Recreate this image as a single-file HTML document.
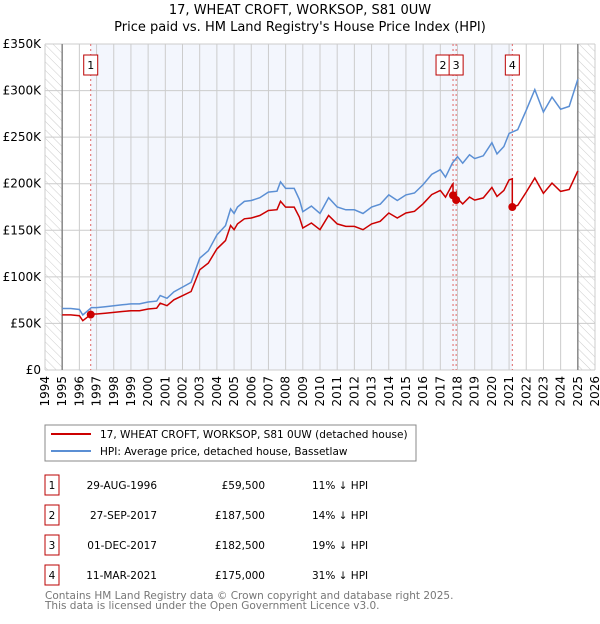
<!DOCTYPE html>
<html><head><meta charset="utf-8"><style>
body{margin:0;background:#fff;font-family:"DejaVu Sans","Liberation Sans",sans-serif;}
svg text{font-family:"DejaVu Sans","Liberation Sans",sans-serif;}
</style></head><body>
<svg id="chart" width="600" height="620" xmlns="http://www.w3.org/2000/svg">
<defs>
<pattern id="hatch" width="6" height="6" patternUnits="userSpaceOnUse" patternTransform="rotate(-45)">
<line x1="0" y1="0" x2="0" y2="6" stroke="#ccc" stroke-width="1"/>
</pattern>
</defs>
<text x="300" y="14" text-anchor="middle" font-size="13">17, WHEAT CROFT, WORKSOP, S81 0UW</text>
<text x="300" y="31" text-anchor="middle" font-size="13">Price paid vs. HM Land Registry's House Price Index (HPI)</text>
<g id="plot"></g>
<g id="legend">
<rect x="45" y="425" width="371" height="36" fill="#fff" stroke="#888"/>
<line x1="51" y1="434" x2="91" y2="434" stroke="#cc0000" stroke-width="2"/>
<text x="100" y="438" font-size="10.5">17, WHEAT CROFT, WORKSOP, S81 0UW (detached house)</text>
<line x1="51" y1="451" x2="91" y2="451" stroke="#5b8fd4" stroke-width="2"/>
<text x="100" y="455" font-size="10.5">HPI: Average price, detached house, Bassetlaw</text>
</g>
<g id="table"></g>
<text x="45" y="599" font-size="10.5" fill="#777">Contains HM Land Registry data © Crown copyright and database right 2025.</text>
<text x="45" y="609" font-size="10.5" fill="#777">This data is licensed under the Open Government Licence v3.0.</text>
</svg>
<script>
const hpiYears=[1995,1995.5,1996,1996.2,1996.7,1997,1997.5,1998,1998.5,1999,1999.5,2000,2000.5,2000.7,2001.1,2001.5,2002,2002.5,2003,2003.5,2004,2004.5,2004.8,2005,2005.2,2005.6,2006,2006.5,2007,2007.5,2007.7,2008,2008.5,2008.8,2009,2009.5,2010,2010.5,2011,2011.5,2012,2012.5,2013,2013.5,2014,2014.5,2015,2015.5,2016,2016.5,2017,2017.3,2017.7,2018,2018.3,2018.7,2019,2019.5,2020,2020.3,2020.7,2021,2021.5,2022,2022.5,2023,2023.5,2024,2024.5,2025];
const hpiValues=[66,66,65,59,67,67,68,69,70,71,71,73,74,80,77,84,89,94,120,128,145,155,173,168,175,181,182,185,191,192,202,195,195,183,170,176,168,185,175,172,172,168,175,178,188,182,188,190,199,210,215,207,222,229,222,231,227,230,244,232,240,254,258,279,301,277,293,280,283,312];
const saleLabels=["1","2","3","4"];
const saleYears=[1996.66,2017.74,2017.92,2021.19];
const salePrices=[59.5,187.5,182.5,175];
const saleDates=["29-AUG-1996","27-SEP-2017","01-DEC-2017","11-MAR-2021"];
const salePriceText=["£59,500","£187,500","£182,500","£175,000"];
const saleDiffText=["11% ↓ HPI","14% ↓ HPI","19% ↓ HPI","31% ↓ HPI"];
const yTicks=[0,50,100,150,200,250,300,350];
const yTickLabels=["£0","£50K","£100K","£150K","£200K","£250K","£300K","£350K"];

const NS="http://www.w3.org/2000/svg";
const L=45,R=595,T=44,B=370;
const x=y=>L+(y-1994)*(R-L)/32;
const yv=v=>B-v*(B-T)/350;
function mk(tag,attrs,parent){const e=document.createElementNS(NS,tag);for(const k in attrs)e.setAttribute(k,attrs[k]);parent.appendChild(e);return e;}
const plot=document.getElementById('plot');
function hpiAt(t){for(let i=0;i<hpiYears.length-1;i++){if(t>=hpiYears[i]&&t<=hpiYears[i+1]){const f=(t-hpiYears[i])/(hpiYears[i+1]-hpiYears[i]);return hpiValues[i]+f*(hpiValues[i+1]-hpiValues[i]);}}return hpiValues[hpiValues.length-1];}

let e;
e=mk('rect',{x:x(saleYears[0]),y:T,width:x(saleYears[3])-x(saleYears[0]),height:B-T,fill:'#f3f6fd'},plot);

e=mk('rect',{x:L,y:T,width:x(1995)-L,height:B-T,fill:'url(#hatch)'},plot);

e=mk('rect',{x:x(2025),y:T,width:R-x(2025),height:B-T,fill:'url(#hatch)'},plot);

for(let yr=1994;yr<=2026;yr++){
 e=mk('line',{x1:x(yr),x2:x(yr),y1:T,y2:B,stroke:'#ccc','stroke-width':1},plot);
 
 e=mk('text',{x:0,y:0,transform:`translate(${x(yr)+4},${B+6}) rotate(-90)`,'text-anchor':'end','font-size':12},plot);
 e.textContent=yr;
}
yTicks.forEach((v,i)=>{
 e=mk('line',{x1:L,x2:R,y1:yv(v),y2:yv(v),stroke:'#ccc','stroke-width':1},plot);
 
 e=mk('text',{x:L-4,y:yv(v)+4,'text-anchor':'end','font-size':12},plot);
 e.textContent=yTickLabels[i];
});
[1995,2025].forEach(yr=>{e=mk('line',{x1:x(yr),x2:x(yr),y1:T,y2:B,stroke:'#888','stroke-width':1.5},plot);
 });
saleYears.forEach((t,i)=>{e=mk('line',{x1:x(t),x2:x(t),y1:T,y2:B,stroke:'#e06666','stroke-width':1,'stroke-dasharray':'2,3'},plot);
 });
let d=hpiYears.map((t,i)=>(i?'L':'M')+x(t).toFixed(1)+','+yv(hpiValues[i]).toFixed(1)).join('');
e=mk('path',{d:d,fill:'none',stroke:'#5b8fd4','stroke-width':1.5},plot);

const ratios=saleYears.map((t,i)=>salePrices[i]/hpiAt(t));
function ratioAt(t){let r=ratios[0];for(let i=0;i<saleYears.length;i++)if(t>=saleYears[i])r=ratios[i];return r;}
let pts=[];
hpiYears.forEach((t,i)=>{pts.push([t,hpiValues[i]]);});
saleYears.forEach(t=>{pts.push([t-0.001,hpiAt(t)]);pts.push([t,hpiAt(t)]);});
pts.sort((a,b)=>a[0]-b[0]);
d=pts.map((p,i)=>(i?'L':'M')+x(p[0]).toFixed(1)+','+yv(p[1]*ratioAt(p[0])).toFixed(1)).join('');
e=mk('path',{d:d,fill:'none',stroke:'#cc0000','stroke-width':1.5},plot);

saleYears.forEach((t,i)=>{
 e=mk('circle',{cx:x(t),cy:yv(salePrices[i]),r:4,fill:'#cc0000'},plot);
 
 e=mk('rect',{x:(i===1?x(t)-17:x(t)-7),y:55,width:14,height:20,fill:'#fff',stroke:'#b00','stroke-width':1},plot);
 
 e=mk('text',{x:(i===1?x(t)-10:x(t)),y:69,'text-anchor':'middle','font-size':11},plot);
 e.textContent=saleLabels[i];
});
const tb=document.getElementById('table');
saleLabels.forEach((s,i)=>{
 const cy=485+i*30;
 e=mk('rect',{x:45,y:cy-10,width:14,height:20,fill:'#fff',stroke:'#b00'},tb);
 
 e=mk('text',{x:52,y:cy+4,'text-anchor':'middle','font-size':10.5},tb);
 e.textContent=s;
 e=mk('text',{x:157,y:cy+4,'text-anchor':'end','font-size':10.5},tb);
 e.textContent=saleDates[i];
 e=mk('text',{x:265,y:cy+4,'text-anchor':'end','font-size':10.5},tb);
 e.textContent=salePriceText[i];
 e=mk('text',{x:312,y:cy+4,'font-size':10.5},tb);
 e.textContent=saleDiffText[i];
});
</script>
</body></html>
